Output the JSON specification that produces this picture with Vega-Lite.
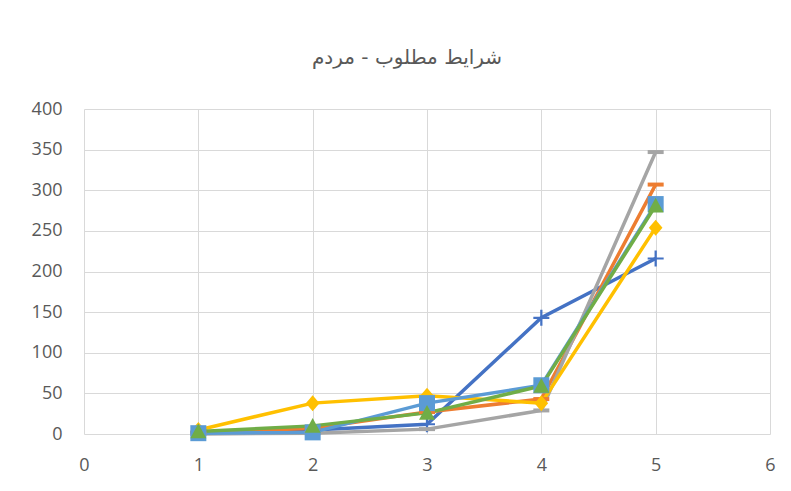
{
  "$schema": "https://vega.github.io/schema/vega-lite/v6.json",
  "autosize": "none",
  "width": 686,
  "height": 325,
  "padding": {"left": 84, "top": 109, "right": 21, "bottom": 57},
  "background": "white",
  "title": {
    "text": "شرايط مطلوب - مردم",
    "anchor": "middle",
    "dx": -20,
    "offset": 32,
    "fontSize": 20,
    "font": "DejaVu Sans",
    "fontWeight": "normal",
    "color": "#595959"
  },
  "config": {
    "view": {"stroke": null},
    "axis": {
      "labelFont": "Open Sans",
      "labelFontSize": 18,
      "labelColor": "#595959",
      "gridColor": "#D9D9D9",
      "gridWidth": 1,
      "domain": false,
      "ticks": false,
      "labelOverlap": false,
      "labelFlush": false
    }
  },
  "data": {
    "values": [
      {"series": "1", "x": 1, "y": 2},
      {"series": "1", "x": 2, "y": 5},
      {"series": "1", "x": 3, "y": 12},
      {"series": "1", "x": 4, "y": 143},
      {"series": "1", "x": 5, "y": 216},
      {"series": "2", "x": 1, "y": 2},
      {"series": "2", "x": 2, "y": 7},
      {"series": "2", "x": 3, "y": 27},
      {"series": "2", "x": 4, "y": 43},
      {"series": "2", "x": 5, "y": 307},
      {"series": "3", "x": 1, "y": 0},
      {"series": "3", "x": 2, "y": 1},
      {"series": "3", "x": 3, "y": 6},
      {"series": "3", "x": 4, "y": 29},
      {"series": "3", "x": 5, "y": 347},
      {"series": "4", "x": 1, "y": 5},
      {"series": "4", "x": 2, "y": 38},
      {"series": "4", "x": 3, "y": 47},
      {"series": "4", "x": 4, "y": 38},
      {"series": "4", "x": 5, "y": 254},
      {"series": "5", "x": 1, "y": 1},
      {"series": "5", "x": 2, "y": 2},
      {"series": "5", "x": 3, "y": 38},
      {"series": "5", "x": 4, "y": 60},
      {"series": "5", "x": 5, "y": 283},
      {"series": "6", "x": 1, "y": 3},
      {"series": "6", "x": 2, "y": 10},
      {"series": "6", "x": 3, "y": 26},
      {"series": "6", "x": 4, "y": 59},
      {"series": "6", "x": 5, "y": 281}
    ]
  },
  "encoding": {
    "x": {
      "field": "x",
      "type": "quantitative",
      "scale": {"domain": [0, 6], "nice": false, "zero": false},
      "axis": {"title": null, "values": [0, 1, 2, 3, 4, 5, 6], "labelPadding": 22}
    },
    "y": {
      "field": "y",
      "type": "quantitative",
      "scale": {"domain": [0, 400], "nice": false},
      "axis": {"title": null, "values": [0, 50, 100, 150, 200, 250, 300, 350, 400], "labelPadding": 22}
    },
    "color": {
      "field": "series",
      "type": "nominal",
      "legend": null,
      "scale": {
        "domain": ["1", "2", "3", "4", "5", "6"],
        "range": ["#4472C4", "#ED7D31", "#A5A5A5", "#FFC000", "#5B9BD5", "#70AD47"]
      }
    }
  },
  "layer": [
    {
      "mark": {"type": "line", "strokeWidth": 3.5}
    },
    {
      "mark": {"type": "point", "filled": true, "opacity": 1, "strokeWidth": 0},
      "encoding": {
        "shape": {
          "field": "series",
          "type": "nominal",
          "legend": null,
          "scale": {
            "domain": ["1", "2", "3", "4", "5", "6"],
            "range": [
              "M-1,-0.14H-0.14V-1H0.14V-0.14H1V0.14H0.14V1H-0.14V0.14H-1Z",
              "M-1,-0.25H1V0.25H-1Z",
              "M-1,-0.25H1V0.25H-1Z",
              "M0,-1L0.85,0L0,1L-0.85,0Z",
              "M-1,-1H1V1H-1Z",
              "M0,-1L1,0.85L-1,0.85Z"
            ]
          }
        },
        "size": {"value": 256}
      }
    }
  ]
}
